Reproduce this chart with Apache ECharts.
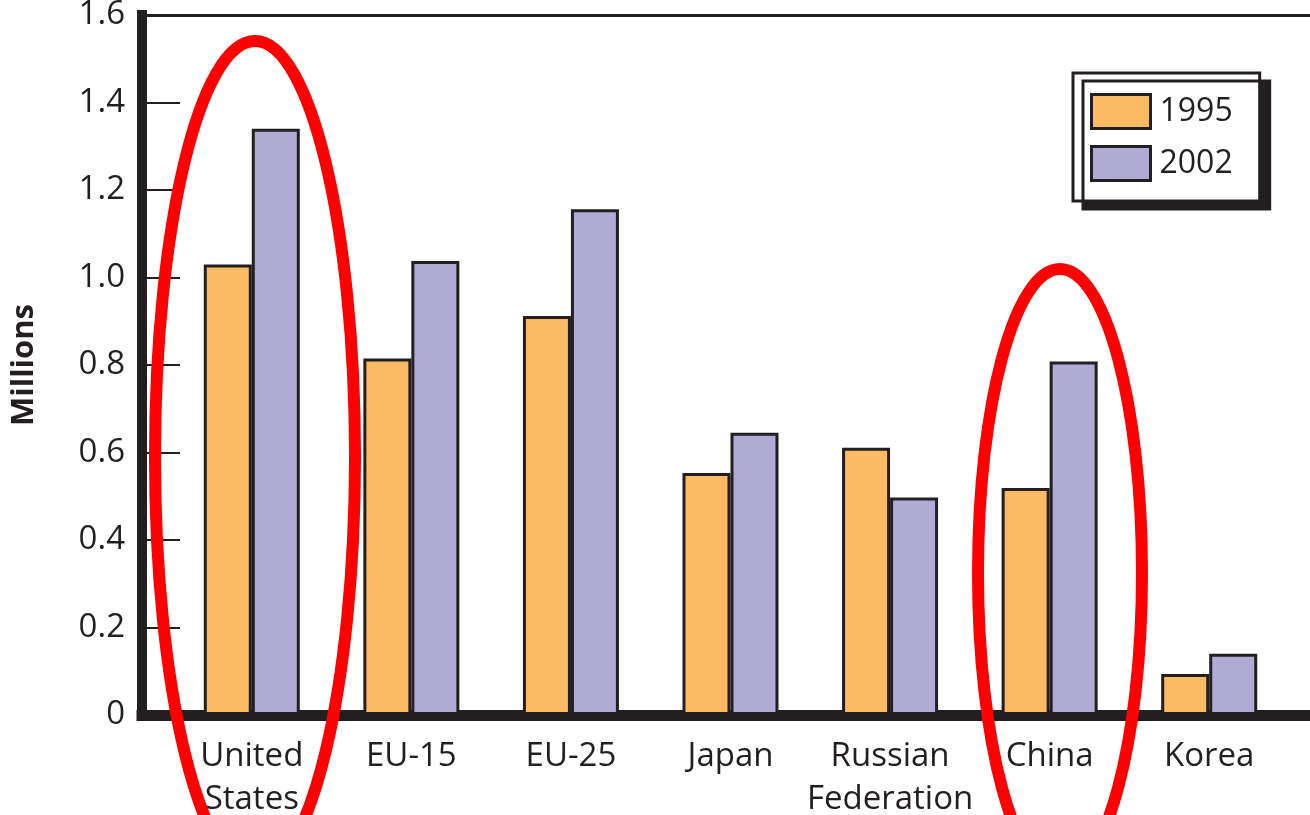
<!DOCTYPE html>
<html>
<head>
<meta charset="utf-8">
<script src="https://cdn.jsdelivr.net/npm/echarts@6/dist/echarts.min.js"></script>
<style>
  html, body { margin: 0; padding: 0; background: #fff; }
  #chart { width: 1310px; height: 815px; }
</style>
</head>
<body>
<div id="chart"></div>
<script>
// data (millions)
const categories = ['United\nStates', 'EU-15', 'EU-25', 'Japan', 'Russian\nFederation', 'China', 'Korea']
const values1995 = [1.03, 0.815, 0.912, 0.553, 0.611, 0.519, 0.094]
const values2002 = [1.34, 1.038, 1.156, 0.645, 0.497, 0.808, 0.14]
const seriesNames = ['1995', '2002']

const ink = '#231f20'
const font = 'Open Sans'

const chart = echarts.init(document.getElementById('chart'))

chart.setOption({
  animation: false,
  textStyle: { fontFamily: font, color: ink },
  grid: [
    // bars area (categories are inset from the frame)
    { left: 172, right: 21, top: 15, bottom: 100, outerBoundsMode: 'none' },
    // frame area
    { left: 142, right: 0, top: 15, bottom: 100, outerBoundsMode: 'none' }
  ],
  legend: {
    orient: 'vertical',
    left: 1073,
    top: 73,
    data: seriesNames,
    itemWidth: 59,
    itemHeight: 34,
    itemGap: 15,
    padding: [20, 27, 19, 17],
    backgroundColor: '#fff',
    borderColor: ink,
    borderWidth: 3,
    shadowColor: ink,
    shadowBlur: 0,
    shadowOffsetX: 10,
    shadowOffsetY: 8,
    icon: 'rect',
    itemStyle: { borderColor: ink, borderWidth: 3 },
    textStyle: { fontFamily: font, fontSize: 32, color: ink, padding: [0, 0, 0, 4] }
  },
  xAxis: [
    {
      type: 'category',
      gridIndex: 0,
      data: categories,
      axisLine: { show: false },
      axisTick: { show: false },
      axisLabel: {
        fontFamily: font,
        fontSize: 33,
        color: ink,
        lineHeight: 43,
        margin: 20,
        interval: 0
      }
    },
    {
      type: 'value',
      gridIndex: 1,
      min: 0,
      max: 1,
      axisLine: { show: true, lineStyle: { color: ink, width: 11, cap: 'square' } },
      axisTick: { show: false },
      axisLabel: { show: false },
      splitLine: { show: false }
    },
    {
      type: 'value',
      gridIndex: 1,
      position: 'top',
      min: 0,
      max: 1,
      axisLine: { show: true, lineStyle: { color: ink, width: 3 } },
      axisTick: { show: false },
      axisLabel: { show: false },
      splitLine: { show: false }
    }
  ],
  yAxis: [
    {
      type: 'value',
      gridIndex: 0,
      min: 0,
      max: 1.6,
      interval: 0.2,
      show: false
    },
    {
      type: 'value',
      gridIndex: 1,
      min: 0,
      max: 1.6,
      interval: 0.2,
      name: 'Millions',
      nameLocation: 'middle',
      nameGap: 102,
      nameTextStyle: { fontFamily: font, fontSize: 31, fontWeight: 'bold', color: ink },
      axisLine: { show: true, lineStyle: { color: ink, width: 10, cap: 'square' } },
      axisTick: {
        show: true,
        inside: true,
        length: 38,
        lineStyle: { color: ink, width: 2 }
      },
      axisLabel: {
        fontFamily: font,
        fontSize: 33,
        color: ink,
        margin: 17,
        padding: [5, 0, 0, 0],
        formatter: v => (v === 0 ? '0' : v.toFixed(1))
      },
      splitLine: { show: false }
    }
  ],
  series: [
    {
      name: seriesNames[0],
      type: 'bar',
      xAxisIndex: 0,
      yAxisIndex: 0,
      data: values1995,
      barWidth: 48,
      barGap: '0%',
      itemStyle: { color: '#fbba63', borderColor: ink, borderWidth: 3 }
    },
    {
      name: seriesNames[1],
      type: 'bar',
      xAxisIndex: 0,
      yAxisIndex: 0,
      data: values2002,
      barWidth: 48,
      barGap: '0%',
      itemStyle: { color: '#b0abd4', borderColor: ink, borderWidth: 3 }
    }
  ],
  // red circles drawn around United States and China
  graphic: [
    {
      type: 'ellipse',
      z: 100,
      shape: { cx: 255, cy: 457, rx: 100, ry: 416 },
      style: { fill: null, stroke: '#ff0000', lineWidth: 12 }
    },
    {
      type: 'ellipse',
      z: 100,
      shape: { cx: 1060, cy: 573, rx: 82, ry: 304 },
      style: { fill: null, stroke: '#ff0000', lineWidth: 12 }
    }
  ]
})

window.addEventListener('resize', () => chart.resize())
</script>
</body>
</html>
